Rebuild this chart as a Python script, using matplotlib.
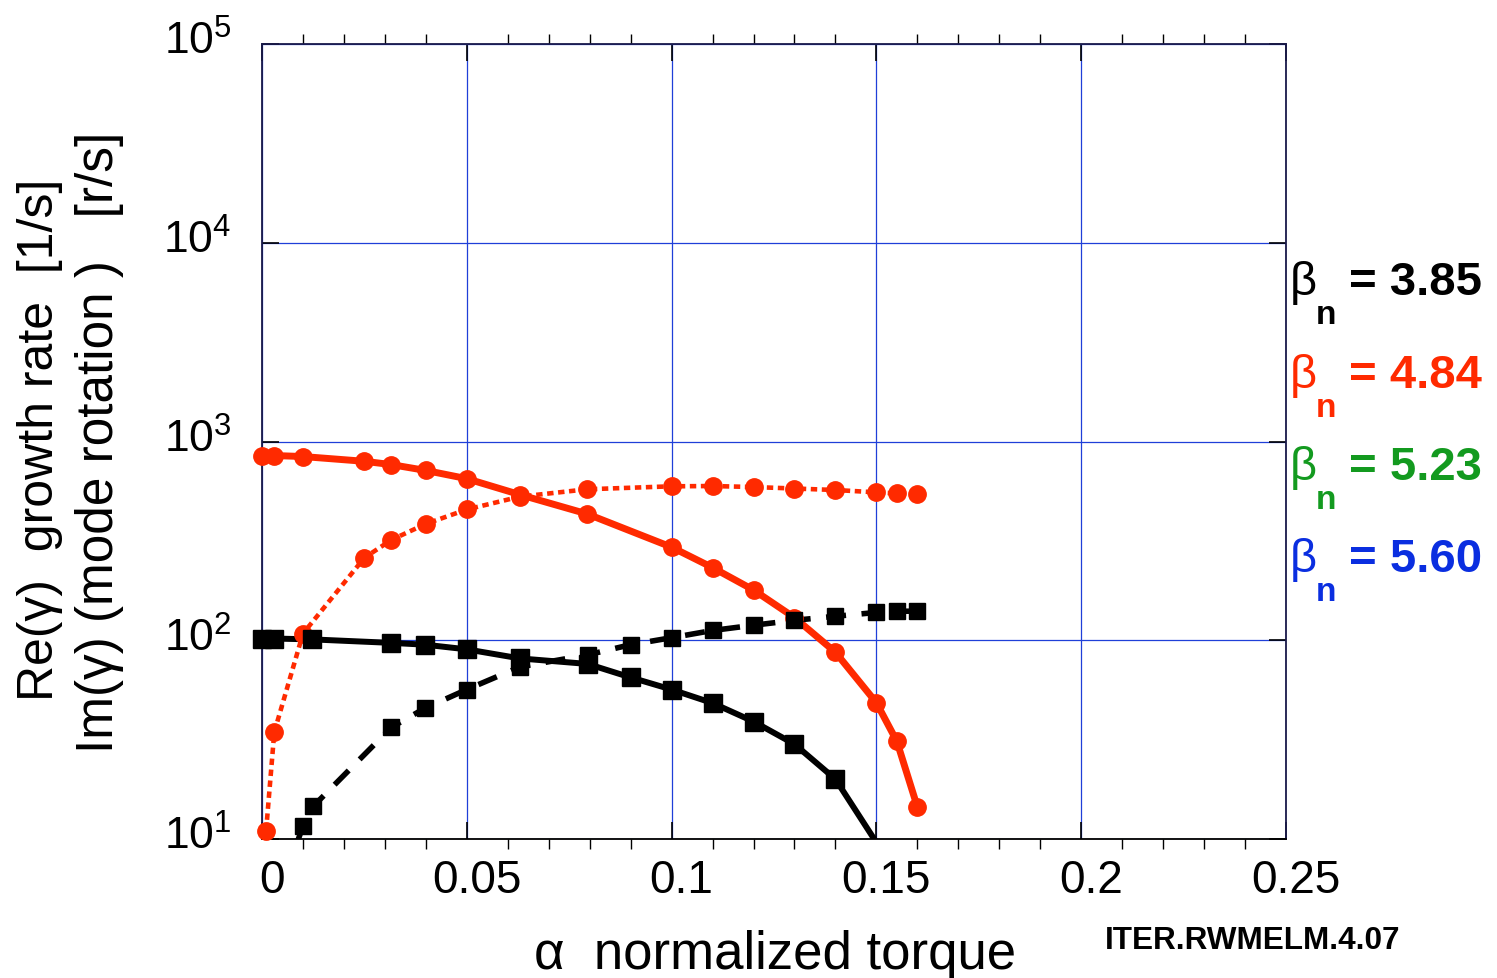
import matplotlib
matplotlib.use('Agg')
import matplotlib.pyplot as plt
import matplotlib.transforms as mtransforms
from matplotlib.ticker import MultipleLocator, LogLocator, NullLocator

plt.rcParams['font.family'] = ['Liberation Sans', 'DejaVu Sans']
plt.rcParams['mathtext.fontset'] = 'custom'
plt.rcParams['mathtext.rm'] = 'Liberation Sans'

# beta_n = 4.84 (red): Re(gamma) solid, Im(gamma) dotted
x_re_red = [0, 0.003, 0.01, 0.025, 0.0316, 0.04, 0.05, 0.063, 0.0794, 0.1, 0.11, 0.12, 0.13, 0.14, 0.15, 0.155, 0.16]
re_red = [850, 850, 840, 795, 765, 715, 650, 540, 432, 294, 232, 179, 130, 87, 48.5, 31, 14.5]
x_im_red = [0.001, 0.003, 0.01, 0.025, 0.0316, 0.04, 0.05, 0.063, 0.0794, 0.1, 0.11, 0.12, 0.13, 0.14, 0.15, 0.155, 0.16]
im_red = [11.0, 34.5, 108, 260, 320, 385, 455, 528, 575, 595, 597, 590, 580, 570, 555, 548, 545]

# beta_n = 3.85 (black): Re(gamma) solid, Im(gamma) dashed
x_re_blk = [0, 0.003, 0.0122, 0.0316, 0.0398, 0.05, 0.063, 0.0795, 0.09, 0.1, 0.11, 0.12, 0.13, 0.14, 0.15]
re_blk = [102, 102, 101, 97, 95, 90, 81, 76, 65, 56.5, 48.3, 39, 30, 20, 9.6]
x_im_blk = [0.0085, 0.01, 0.0125, 0.0316, 0.0398, 0.05, 0.063, 0.0796, 0.09, 0.1, 0.11, 0.12, 0.13, 0.14, 0.15, 0.155, 0.16]
im_blk = [9.5, 11.6, 14.6, 36.5, 45.5, 56.5, 73.5, 84.5, 95, 103, 112, 119, 126, 132, 138, 140, 140]

beta_labels = ['3.85', '4.84', '5.23', '5.60']
beta_colors = ['black', '#ff2a00', '#139a1f', '#0a2ee0']

RED = '#ff2a00'

fig = plt.figure(figsize=(14.97, 9.79), dpi=100)
ax = fig.add_axes([262/1497, 139/979, 1024/1497, 795/979])
ax.set_yscale('log')
ax.set_xlim(0, 0.25)
ax.set_ylim(10, 1e5)


def series(x, y, color, lw, marker, ms, dashes=None):
    ln, = ax.plot(x, y, color=color, lw=lw, solid_capstyle='butt', zorder=3)
    if dashes is not None:
        ln.set_dashes(dashes)
        ln.set_dash_capstyle('butt')
    mx = [a for a, b in zip(x, y) if b >= 10]
    my = [b for b in y if b >= 10]
    ax.plot(mx, my, ls='none', marker=marker, ms=ms, color=color,
            mec=color, clip_on=False, zorder=4)


series(x_re_red, re_red, RED, 5.0, 'o', 12.5)
series(x_im_red, im_red, RED, 3.3, 'o', 12.5, dashes=(1.4, 1.0))
series(x_re_blk, re_blk, 'black', 4.3, 's', 12.5)
series(x_im_blk, im_blk, 'black', 4.0, 's', 12, dashes=(3.6, 2.8))

# grid and axes styling
ax.grid(True, which='major', color='#1f3fd8', lw=0.9)
ax.set_axisbelow(True)
for s in ax.spines.values():
    s.set_color('#1a1a4a')
    s.set_linewidth(1.3)
ax.spines['bottom'].set_color('black')

ax.xaxis.set_major_locator(MultipleLocator(0.05))
ax.xaxis.set_minor_locator(MultipleLocator(0.01))
ax.yaxis.set_major_locator(LogLocator(base=10, numticks=10))
ax.yaxis.set_minor_locator(NullLocator())
ax.set_xticks([0, 0.05, 0.1, 0.15, 0.2, 0.25])
ax.set_xticklabels(['0', '0.05', '0.1', '0.15', '0.2', '0.25'])

ax.tick_params(axis='x', which='major', direction='in', length=12, width=1.2,
               color='black', top=True, labelsize=33, pad=14)
ax.tick_params(axis='x', which='minor', direction='out', length=7, width=1.0,
               color='black', top=True)
ax.tick_params(axis='y', which='major', direction='in', length=12, width=1.2,
               color='black', right=True, labelsize=32, pad=22)

off = mtransforms.ScaledTranslation(0.10, 0, fig.dpi_scale_trans)
for lbl in ax.get_xticklabels():
    lbl.set_transform(lbl.get_transform() + off)
offy = mtransforms.ScaledTranslation(0, 0.07, fig.dpi_scale_trans)
for lbl in ax.get_yticklabels():
    lbl.set_transform(lbl.get_transform() + offy)

# axis labels
fig.text(40/1497, 1 - 440/979, 'Re(γ)  growth rate  [1/s]', rotation=90,
         ha='center', va='center', fontsize=36)
fig.text(100/1497, 1 - 442/979, 'Im(γ) (mode rotation )   [r/s]', rotation=90,
         ha='center', va='center', fontsize=37)
fig.text(775/1497, 1 - 955/979, 'α  normalized torque', ha='center', va='center',
         fontsize=38)

# beta_n legend
base_rows = [295, 388, 480, 572]
for lab, col, yb in zip(beta_labels, beta_colors, base_rows):
    fig.text(1290/1497, 1 - yb/979, 'β', color=col, fontsize=34, va='baseline')
    fig.text(1316/1497, 1 - (yb + 29)/979, 'n', color=col, fontsize=24,
             fontweight='bold', va='baseline')
    fig.text(1349/1497, 1 - yb/979, '= ' + lab, color=col, fontsize=34,
             fontweight='bold', va='baseline')

fig.text(1105/1497, 1 - 949/979, 'ITER.RWMELM.4.07', fontsize=22.7,
         fontweight='bold', va='baseline')

fig.savefig('out.png', dpi=100)
